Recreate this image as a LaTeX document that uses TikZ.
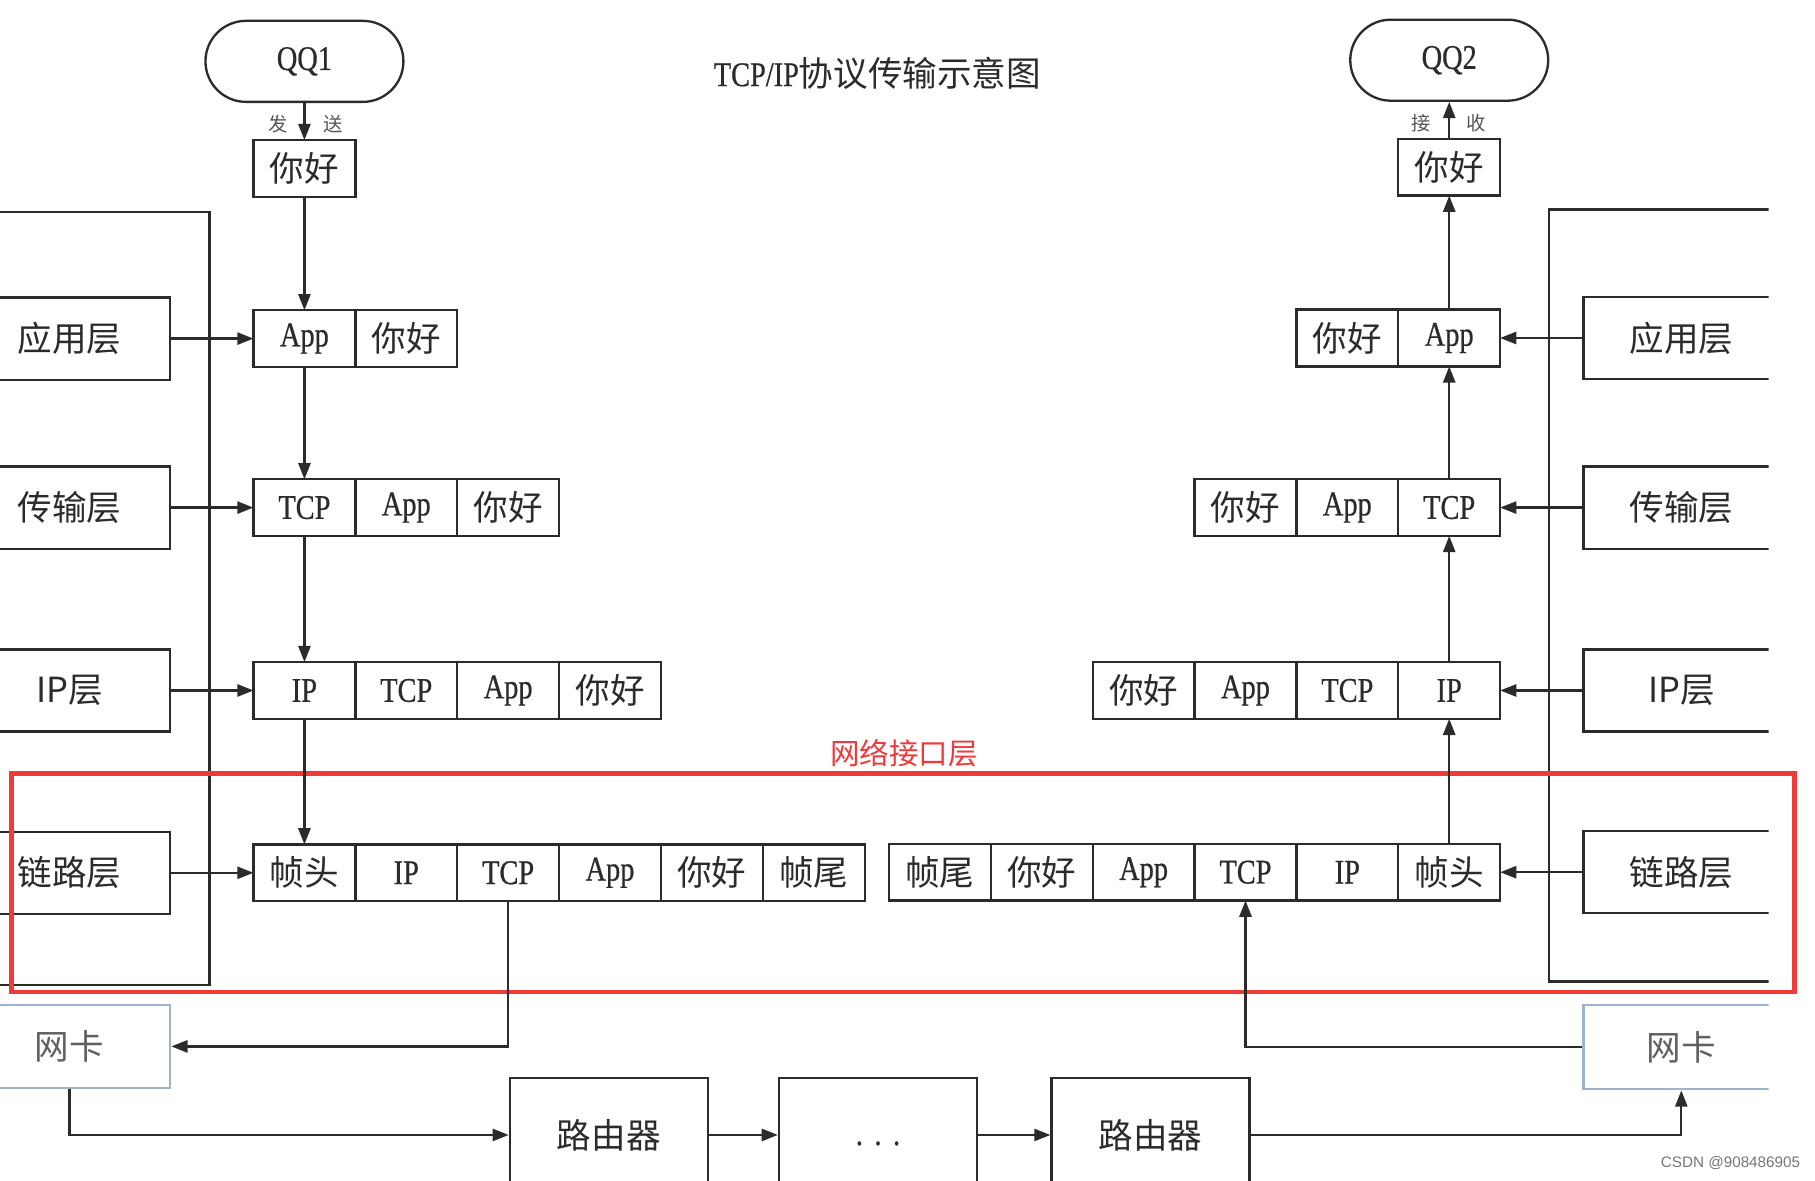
\documentclass[tikz,border=0pt]{standalone}
\usepackage{fontspec}
\setmainfont{Liberation Serif}[FakeStretch=0.82,FakeBold=0.6]
\newfontfamily\hanzi{Noto Sans CJK SC}
\newfontfamily\wmfont{Liberation Sans}
\usetikzlibrary{positioning,arrows.meta}
\definecolor{ink}{HTML}{2B2B2B}
\definecolor{nicblue}{HTML}{9FB3C8}
\definecolor{alarm}{HTML}{F03A3A}
\newcommand\cellfont{\fontsize{17}{17}\selectfont}
\newcommand\tagfont{\fontsize{9.5}{10}\selectfont\hanzi}

\begin{document}
\begin{tikzpicture}[x=0.2mm, y=-0.2mm, line width=0.4mm, color=ink,
  cell/.style={draw, minimum width=17.6mm, minimum height=9.8mm,
    inner sep=0pt, outer sep=0pt, font=\cellfont},
  layer/.style={draw, minimum height=14.2mm, inner sep=0pt, font=\cellfont\hanzi},
  nic/.style={layer, draw=nicblue, text=ink!75},
  term/.style={draw, rounded corners=7mm, minimum width=34.2mm,
    minimum height=14mm, font=\cellfont},
  router/.style={draw, minimum width=34.2mm, minimum height=19.8mm,
    inner sep=0pt, font=\cellfont\hanzi},
  flow/.style={-{Triangle[length=2.8mm,width=2.1mm]}},
  tag/.style={font=\tagfont, text=ink!80}]
  \useasboundingbox (0,0) rectangle (1568,1020);
  \clip (0,0) rectangle (1568,1020);

  \node[font=\fontsize{17}{17}\selectfont] (title) at (758,63) {TCP/IP{\hanzi 协议传输示意图}};

  % sender side
  \node[term] (qq1) at (263,53) {QQ1};
  \node[cell, font=\cellfont\hanzi] (l0) at (263,145.5) {你好};
  \node[tag] (snd1) at (240,107) {发};
  \node[tag] (snd2) at (288,107) {送};

  \node[cell] (l1a) at (263,292.5) {App};
  \node[cell, right=0pt of l1a] (l1b) {\hanzi 你好};

  \node[cell] (l2a) at (263,438.5) {TCP};
  \node[cell, right=0pt of l2a] (l2b) {App};
  \node[cell, right=0pt of l2b] (l2c) {\hanzi 你好};

  \node[cell] (l3a) at (263,596.5) {IP};
  \node[cell, right=0pt of l3a] (l3b) {TCP};
  \node[cell, right=0pt of l3b] (l3c) {App};
  \node[cell, right=0pt of l3c] (l3d) {\hanzi 你好};

  \node[cell] (l4a) at (263,754) {\hanzi 帧头};
  \node[cell, right=0pt of l4a] (l4b) {IP};
  \node[cell, right=0pt of l4b] (l4c) {TCP};
  \node[cell, right=0pt of l4c] (l4d) {App};
  \node[cell, right=0pt of l4d] (l4e) {\hanzi 你好};
  \node[cell, right=0pt of l4e] (l4f) {\hanzi 帧尾};

  % receiver side
  \node[term] (qq2) at (1252,52) {QQ2};
  \node[cell, font=\cellfont\hanzi] (r0) at (1252,144.5) {你好};
  \node[tag] (rcv1) at (1228,106) {接};
  \node[tag] (rcv2) at (1275,106) {收};

  \node[cell] (r1a) at (1252,292) {App};
  \node[cell, left=0pt of r1a] (r1b) {\hanzi 你好};

  \node[cell] (r2a) at (1252,438.5) {TCP};
  \node[cell, left=0pt of r2a] (r2b) {App};
  \node[cell, left=0pt of r2b] (r2c) {\hanzi 你好};

  \node[cell] (r3a) at (1252,596.5) {IP};
  \node[cell, left=0pt of r3a] (r3b) {TCP};
  \node[cell, left=0pt of r3b] (r3c) {App};
  \node[cell, left=0pt of r3c] (r3d) {\hanzi 你好};

  \node[cell] (r4a) at (1252,753.5) {\hanzi 帧头};
  \node[cell, left=0pt of r4a] (r4b) {IP};
  \node[cell, left=0pt of r4b] (r4c) {TCP};
  \node[cell, left=0pt of r4c] (r4d) {App};
  \node[cell, left=0pt of r4d] (r4e) {\hanzi 你好};
  \node[cell, left=0pt of r4e] (r4f) {\hanzi 帧尾};

  % layer boxes, cut by the page edge
  \draw (0,183) -| (181,851) -- (0,851);
  \node[layer, minimum width=34.8mm] (lapp) at (60,292.5) {应用层};
  \node[layer, minimum width=34.8mm] (ltrn) at (60,438.5) {传输层};
  \node[layer, minimum width=34.8mm] (lnet) at (60,596.5) {IP层};
  \node[layer, minimum width=34.8mm] (llnk) at (60,754) {链路层};
  \node[nic, minimum width=34.8mm, minimum height=14.4mm] (nicl) at (60,904) {网卡};

  \begin{scope}
    \clip (0,0) rectangle (1528,1020);
    \draw (1540,181) -| (1338,848) -- (1540,848);
    \node[layer, minimum width=33.8mm] (rapp) at (1452.5,292) {应用层};
    \node[layer, minimum width=33.8mm] (rtrn) at (1452.5,438.5) {传输层};
    \node[layer, minimum width=33.8mm] (rnet) at (1452.5,596.5) {IP层};
    \node[layer, minimum width=33.8mm] (rlnk) at (1452.5,753.5) {链路层};
    \node[nic, minimum width=33.8mm, minimum height=14.6mm] (nicr) at (1452.5,904.5) {网卡};
  \end{scope}

  % routers along the wire
  \node[router] (rt1) at (526,980.5) {路由器};
  \node[router, font=\cellfont, text height=2.2ex] (relay) at (758.5,980.5) {.\,\,.\,\,.};
  \node[router] (rt2) at (994,980.5) {路由器};

  % red frame
  \draw[alarm, line width=0.8mm] (10,668) rectangle (1550,857);
  \node[text=alarm, font=\fontsize{14.5}{15}\selectfont\hanzi] (nilbl) at (781,651) {网络接口层};

  % sending down
  \draw[flow] (qq1) -- (l0);
  \draw[flow] (l0) -- (l1a);
  \draw[flow] (l1a) -- (l2a);
  \draw[flow] (l2a) -- (l3a);
  \draw[flow] (l3a) -- (l4a);
  \draw[flow] (lapp) -- (l1a);
  \draw[flow] (ltrn) -- (l2a);
  \draw[flow] (lnet) -- (l3a);
  \draw[flow] (llnk) -- (l4a);

  % receiving up
  \draw[flow] (r0) -- (qq2);
  \draw[flow] (r1a) -- (r0);
  \draw[flow] (r2a) -- (r1a);
  \draw[flow] (r3a) -- (r2a);
  \draw[flow] (r4a) -- (r3a);
  \draw[flow] (rapp) -- (r1a);
  \draw[flow] (rtrn) -- (r2a);
  \draw[flow] (rnet) -- (r3a);
  \draw[flow] (rlnk) -- (r4a);

  % the wire
  \draw[flow] (l4c.south) |- (nicl.east);
  \draw[flow] (nicl.south) |- (rt1.west);
  \draw[flow] (rt1) -- (relay);
  \draw[flow] (relay) -- (rt2);
  \draw[flow] (rt2.east) -| (nicr.south);
  \draw[flow] (nicr.west) -| (r4c.south);

  \node[font=\fontsize{7.5}{8}\wmfont, text=ink!65] (wm) at (1495,1005) {CSDN @908486905};
\end{tikzpicture}
\end{document}
